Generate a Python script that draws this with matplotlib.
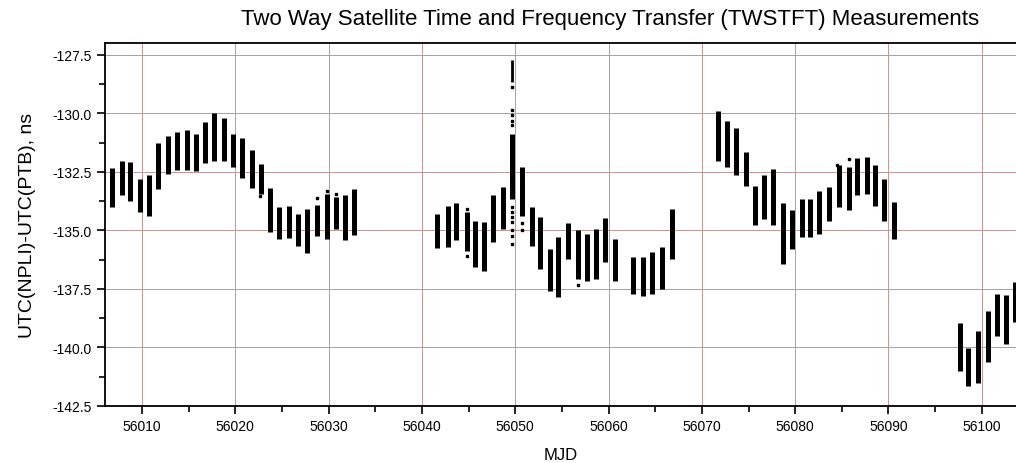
import numpy as np
import matplotlib
matplotlib.use("Agg")
import matplotlib.pyplot as plt
from matplotlib.ticker import MultipleLocator, FormatStrFormatter

plt.rcParams['font.family'] = ['Liberation Sans', 'DejaVu Sans']

# daily measurement clusters: MJD, lowest and highest value (ns)
mjd = [56006.75, 56007.8, 56008.7, 56009.8, 56010.7, 56011.75, 56012.8, 56013.8,
       56014.8, 56015.75, 56016.75, 56017.75, 56018.8, 56019.7, 56020.7, 56021.75,
       56022.7, 56023.7, 56024.7, 56025.75, 56026.75, 56027.7, 56028.8, 56029.8,
       56030.8, 56031.75, 56032.7,
       56041.65, 56042.75, 56043.7, 56044.8, 56045.7, 56046.65, 56047.65, 56048.65,
       56049.6, 56050.7, 56051.75, 56052.65, 56053.7, 56054.6, 56055.7, 56056.75,
       56057.65, 56058.65, 56059.6, 56060.7, 56062.65, 56063.65, 56064.65, 56065.7,
       56066.75,
       56071.75, 56072.65, 56073.65, 56074.75, 56075.7, 56076.65, 56077.65, 56078.65,
       56079.65, 56080.7, 56081.6, 56082.6, 56083.65, 56084.7, 56085.75, 56086.6,
       56087.65, 56088.55, 56089.5, 56090.6,
       56097.65, 56098.55, 56099.65, 56100.7, 56101.65, 56102.65, 56103.55]
hi = [-132.34, -132.04, -132.09, -132.80, -132.63, -131.27, -130.97, -130.78,
      -130.71, -130.88, -130.38, -129.98, -130.20, -130.88, -131.06, -131.59,
      -132.16, -133.20, -134.01, -133.94, -134.30, -134.08, -133.91, -133.44,
      -133.58, -133.51, -133.23,
      -134.30, -133.94, -133.82, -134.22, -134.62, -134.65, -133.48, -133.15,
      -130.90, -132.30, -134.01, -134.44, -135.79, -135.29, -134.68, -135.00,
      -135.15, -134.96, -134.48, -135.36, -136.15, -136.15, -135.93, -135.72,
      -134.08,
      -129.92, -130.31, -130.63, -131.66, -133.11, -132.63, -132.37, -133.82,
      -134.15, -133.65, -133.68, -133.30, -133.15, -132.23, -132.30, -131.91,
      -131.87, -132.23, -132.80, -133.77,
      -138.95, -140.03, -139.28, -138.43, -137.71, -137.76, -137.20]
lo = [-134.01, -133.48, -133.73, -134.20, -134.37, -133.23, -132.59, -132.41,
      -132.41, -132.47, -132.13, -132.02, -132.02, -132.30, -132.77, -133.20,
      -133.44, -135.08, -135.36, -135.33, -135.65, -135.96, -135.25, -135.36,
      -134.94, -135.43, -135.19,
      -135.76, -135.72, -135.43, -135.90, -136.57, -136.72, -135.50, -134.94,
      -133.65, -134.37, -135.65, -136.65, -137.57, -137.86, -136.22, -137.07,
      -137.15, -137.07, -136.36, -137.15, -137.72, -137.81, -137.72, -137.50,
      -136.22,
      -132.02, -132.30, -132.63, -133.11, -134.79, -134.51, -134.79, -136.43,
      -135.79, -135.29, -135.29, -135.15, -134.58, -134.01, -134.15, -133.51,
      -133.44, -133.94, -134.58, -135.36,
      -140.99, -141.63, -141.52, -140.63, -139.50, -139.85, -138.90]

# thin run of points at the top of the MJD 56049 spike
spike_mjd = 56049.6
spike_top = -127.72
spike_bottom = -128.65

# isolated points away from the daily clusters
out_mjd = [56049.6, 56049.6, 56049.6, 56049.6, 56049.6,
           56049.6, 56049.6, 56049.6, 56049.6, 56049.6, 56049.6, 56049.6,
           56050.7, 56050.7, 56022.65, 56028.8, 56029.8, 56030.8, 56044.8, 56044.8,
           56056.75, 56065.7, 56084.5, 56085.75]
out_val = [-128.88, -129.88, -130.09, -130.31, -130.52,
           -134.01, -134.22, -134.44, -134.65, -135.00, -135.22, -135.58,
           -134.70, -135.00, -133.54, -133.62, -133.30, -133.44, -134.08, -136.08,
           -137.33, -137.43, -132.23, -131.94]

fig = plt.figure(figsize=(10.16, 4.64), dpi=100)
ax = fig.add_axes([105 / 1016, 57 / 464, 911 / 1016, 363 / 464])

ax.vlines(mjd, lo, hi, colors='black', lw=3.6, zorder=3)
ax.vlines([spike_mjd], [spike_bottom], [spike_top], colors='black', lw=2.0, zorder=3)
ax.plot(out_mjd, out_val, 's', color='black', ms=2.0, zorder=3)

ax.set_xlim(56006.03, 56103.67)
ax.set_ylim(-142.5, -127.0)

ax.xaxis.set_major_locator(MultipleLocator(10))
ax.xaxis.set_minor_locator(MultipleLocator(5))
ax.yaxis.set_major_locator(MultipleLocator(2.5))
ax.yaxis.set_minor_locator(MultipleLocator(1.25))
ax.yaxis.set_major_formatter(FormatStrFormatter('%.1f'))

ax.tick_params(which='major', direction='out', length=6, width=1.2, labelsize=10)
ax.tick_params(which='minor', direction='out', length=4, width=1.2)
ax.grid(True, which='major', color='#c09a9a', lw=0.5, antialiased=False, zorder=0)

for s in ['left', 'bottom', 'top']:
    ax.spines[s].set_linewidth(1.3)
ax.spines['right'].set_visible(False)

ax.set_xlabel('MJD', fontsize=12, labelpad=10)
ax.set_ylabel('UTC(NPLI)-UTC(PTB), ns', fontsize=14, labelpad=12)
fig.text(610 / 1016, 1 - 19 / 464, 'Two Way Satellite Time and Frequency Transfer (TWSTFT) Measurements',
         ha='center', va='center', fontsize=16)

fig.savefig('out.png', dpi=100)
